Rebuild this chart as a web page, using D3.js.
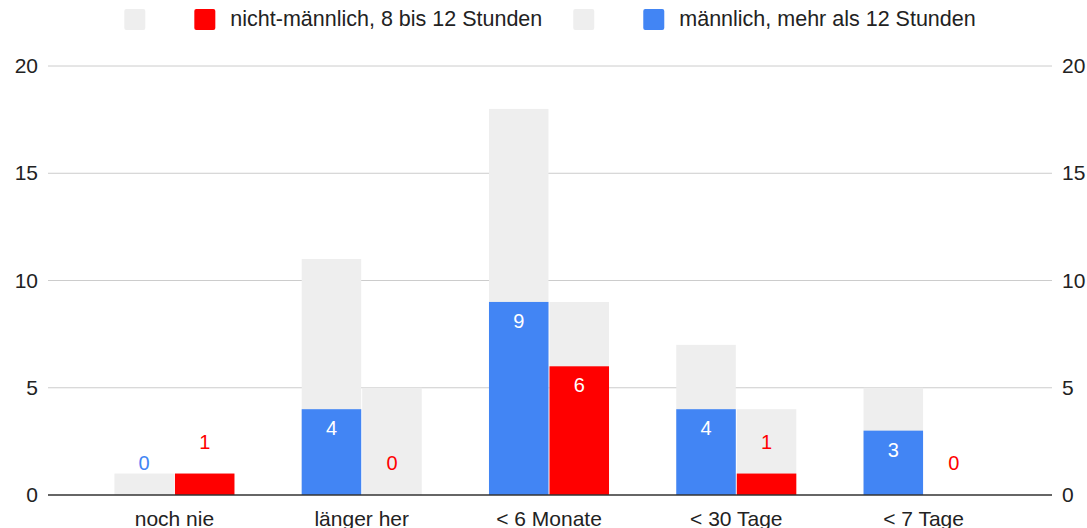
<!DOCTYPE html>
<html>
    <head>
        <meta charset="utf-8">
        <title>Bar chart</title>
        <script src="https://d3js.org/d3.v7.min.js"></script>
        <style>
            body { margin: 0; background: #ffffff; }
            text { font-family: "Liberation Sans", Arial, sans-serif; fill: #222222; }
        </style>
    </head>
    <body>
    </body>
    <script>
        var w = 1087;
        var h = 528;

        // data
        var categories = ["noch nie", "länger her", "< 6 Monate", "< 30 Tage", "< 7 Tage"];
        var maleTotal = [1, 11, 18, 7, 5];
        var nonMaleTotal = [1, 5, 9, 4, 0];
        var male12h = [0, 4, 9, 4, 3];
        var nonMale8to12 = [1, 0, 6, 1, 0];
        var yTicks = [0, 5, 10, 15, 20];
        var legendItems = [
            {label: "", color: "#eeeeee"},
            {label: "nicht-männlich, 8 bis 12 Stunden", color: "#ff0000"},
            {label: "", color: "#eeeeee"},
            {label: "männlich, mehr als 12 Stunden", color: "#4285f4"}
        ];

        var grey = "#eeeeee";
        var blue = "#4285f4";
        var red = "#ff0000";

        var svg = d3.select("body")
                    .append("svg")
                    .attr("width", w)
                    .attr("height", h);

        var x0 = d3.scaleBand()
                   .domain(categories)
                   .range([80.7, 1017.3])
                   .paddingInner(0.359)
                   .paddingOuter(0.18);

        var x1 = d3.scaleBand()
                   .domain(["m", "nm"])
                   .range([0, x0.bandwidth()])
                   .paddingInner(2 / 120);

        var y = d3.scaleLinear()
                  .domain([0, 20])
                  .range([495, 66]);

        // gridlines
        svg.selectAll("line.grid")
            .data(yTicks.filter(function(d){ return d > 0; }))
            .enter()
            .append("line")
            .attr("class", "grid")
            .attr("x1", 48)
            .attr("x2", 1052)
            .attr("y1", function(d){ return y(d); })
            .attr("y2", function(d){ return y(d); })
            .attr("stroke", "#cccccc")
            .attr("stroke-width", 1);

        // left and right axes (labels only)
        var leftAxis = svg.append("g")
            .attr("transform", "translate(48,0)")
            .call(d3.axisLeft(y).tickValues(yTicks).tickSize(0).tickPadding(10));
        var rightAxis = svg.append("g")
            .attr("transform", "translate(1052,0)")
            .call(d3.axisRight(y).tickValues(yTicks).tickSize(0).tickPadding(10));
        [leftAxis, rightAxis].forEach(function(a){
            a.select(".domain").remove();
            a.selectAll("text")
                .attr("font-size", 21)
                .attr("font-family", "Liberation Sans, Arial, sans-serif")
                .attr("fill", "#222222");
        });

        var rows = categories.map(function(c, i){
            return {cat: c, mt: maleTotal[i], nt: nonMaleTotal[i], m: male12h[i], n: nonMale8to12[i]};
        });

        var groups = svg.selectAll("g.cat")
            .data(rows)
            .enter()
            .append("g")
            .attr("class", "cat")
            .attr("transform", function(d){ return "translate(" + x0(d.cat) + ",0)"; });

        // grey totals
        groups.append("rect")
            .attr("x", x1("m"))
            .attr("width", x1.bandwidth())
            .attr("y", function(d){ return y(d.mt); })
            .attr("height", function(d){ return y(0) - y(d.mt); })
            .attr("fill", grey);
        groups.append("rect")
            .attr("x", x1("nm"))
            .attr("width", x1.bandwidth())
            .attr("y", function(d){ return y(d.nt); })
            .attr("height", function(d){ return y(0) - y(d.nt); })
            .attr("fill", grey);

        // coloured parts
        groups.append("rect")
            .attr("x", x1("m"))
            .attr("width", x1.bandwidth())
            .attr("y", function(d){ return y(d.m); })
            .attr("height", function(d){ return y(0) - y(d.m); })
            .attr("fill", blue);
        groups.append("rect")
            .attr("x", x1("nm"))
            .attr("width", x1.bandwidth())
            .attr("y", function(d){ return y(d.n); })
            .attr("height", function(d){ return y(0) - y(d.n); })
            .attr("fill", red);

        // value labels
        function inside(v){ return y(0) - y(v) > 30; }
        function labelY(v){ return inside(v) ? y(v) + 19 : y(v) - 32; }

        groups.append("text")
            .text(function(d){ return d.m; })
            .attr("x", x1("m") + x1.bandwidth() / 2)
            .attr("y", function(d){ return labelY(d.m); })
            .attr("text-anchor", "middle")
            .attr("dominant-baseline", "central")
            .attr("font-size", 20)
            .style("fill", function(d){ return inside(d.m) ? "#ffffff" : blue; });
        groups.append("text")
            .text(function(d){ return d.n; })
            .attr("x", x1("nm") + x1.bandwidth() / 2)
            .attr("y", function(d){ return labelY(d.n); })
            .attr("text-anchor", "middle")
            .attr("dominant-baseline", "central")
            .attr("font-size", 20)
            .style("fill", function(d){ return inside(d.n) ? "#ffffff" : red; });

        // baseline
        svg.append("line")
            .attr("x1", 48)
            .attr("x2", 1052)
            .attr("y1", y(0))
            .attr("y2", y(0))
            .attr("stroke", "#333333")
            .attr("stroke-width", 1.5);

        // category labels
        svg.selectAll("text.cat")
            .data(categories)
            .enter()
            .append("text")
            .attr("class", "cat")
            .text(function(d){ return d; })
            .attr("x", function(d){ return x0(d) + x0.bandwidth() / 2; })
            .attr("y", 518)
            .attr("text-anchor", "middle")
            .attr("dominant-baseline", "central")
            .attr("font-size", 21);

        // legend
        var legend = svg.append("g");
        var cursor = 0;
        legendItems.forEach(function(d, i){
            var g = legend.append("g").attr("transform", "translate(" + cursor + ",0)");
            g.append("rect")
                .attr("x", 0)
                .attr("y", 9)
                .attr("width", 21)
                .attr("height", 21)
                .attr("rx", 2)
                .attr("fill", d.color);
            var wItem = 21;
            if (d.label) {
                var t = g.append("text")
                    .text(d.label)
                    .attr("x", 36)
                    .attr("y", 19)
                    .attr("dominant-baseline", "central")
                    .attr("font-size", 21.5);
                wItem = 36 + t.node().getComputedTextLength();
                cursor += wItem + 31;
            } else {
                cursor += wItem + 49;
            }
        });
        var legendWidth = cursor - 31;
        legend.attr("transform", "translate(" + (550 - legendWidth / 2) + ",0)");
    </script>
</html>
